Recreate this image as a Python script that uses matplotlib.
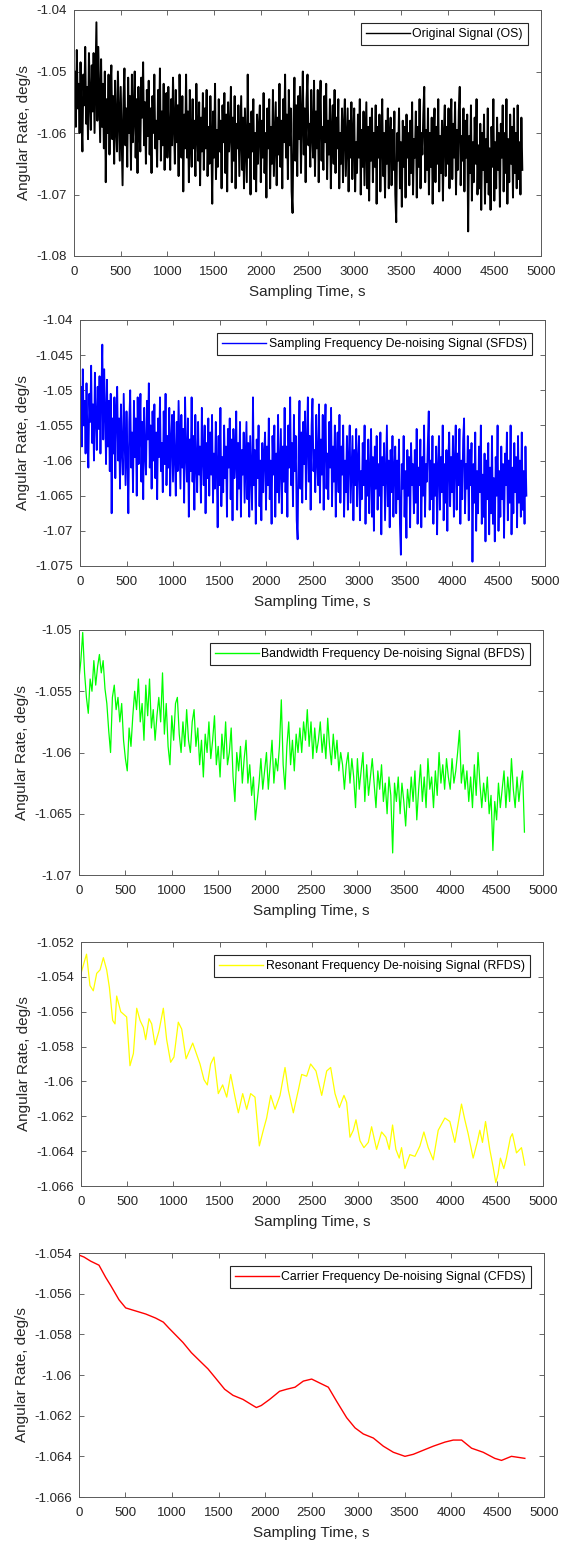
import numpy as np
import matplotlib
matplotlib.use('Agg')
from matplotlib import pyplot as plt

plt.rcParams['font.family'] = ['Liberation Sans', 'DejaVu Sans']

# original signal, one reading every 10 s
os_rate = [
    -1.0555, -1.0500, -1.0590, -1.0465, -1.0560, -1.0520, -1.0600, -1.0485, -1.0575, -1.0630, -1.0505, -1.0555, -1.0460, -1.0585, -1.0525, -1.0610, -1.0470, -1.0545, -1.0595, -1.0490,
    -1.0565, -1.0470, -1.0600, -1.0510, -1.0420, -1.0580, -1.0460, -1.0535, -1.0615, -1.0480, -1.0590, -1.0520, -1.0625, -1.0500, -1.0680, -1.0545, -1.0600, -1.0505, -1.0635, -1.0530,
    -1.0490, -1.0610, -1.0540, -1.0650, -1.0515, -1.0590, -1.0630, -1.0500, -1.0575, -1.0645, -1.0525, -1.0605, -1.0685, -1.0545, -1.0495, -1.0620, -1.0560, -1.0655, -1.0510, -1.0600,
    -1.0540, -1.0660, -1.0505, -1.0615, -1.0570, -1.0500, -1.0640, -1.0545, -1.0665, -1.0525, -1.0595, -1.0630, -1.0510, -1.0575, -1.0485, -1.0620, -1.0550, -1.0650, -1.0530, -1.0605,
    -1.0515, -1.0635, -1.0560, -1.0665, -1.0540, -1.0600, -1.0505, -1.0625, -1.0580, -1.0655, -1.0530, -1.0610, -1.0495, -1.0645, -1.0565, -1.0620, -1.0520, -1.0660, -1.0575, -1.0535,
    -1.0640, -1.0525, -1.0600, -1.0660, -1.0545, -1.0620, -1.0510, -1.0585, -1.0650, -1.0530, -1.0615, -1.0555, -1.0670, -1.0505, -1.0595, -1.0640, -1.0540, -1.0695, -1.0570, -1.0625,
    -1.0505, -1.0640, -1.0565, -1.0680, -1.0530, -1.0610, -1.0655, -1.0545, -1.0625, -1.0580, -1.0670, -1.0520, -1.0600, -1.0645, -1.0550, -1.0685, -1.0575, -1.0630, -1.0535, -1.0660,
    -1.0560, -1.0625, -1.0530, -1.0670, -1.0590, -1.0650, -1.0540, -1.0610, -1.0715, -1.0565, -1.0640, -1.0520, -1.0675, -1.0595, -1.0655, -1.0545, -1.0630, -1.0580, -1.0690, -1.0555,
    -1.0615, -1.0535, -1.0665, -1.0570, -1.0695, -1.0550, -1.0630, -1.0600, -1.0525, -1.0680, -1.0575, -1.0645, -1.0540, -1.0690, -1.0585, -1.0625, -1.0555, -1.0670, -1.0605, -1.0540,
    -1.0660, -1.0575, -1.0690, -1.0560, -1.0620, -1.0680, -1.0505, -1.0640, -1.0585, -1.0700, -1.0565, -1.0630, -1.0545, -1.0675, -1.0600, -1.0695, -1.0570, -1.0650, -1.0590, -1.0555,
    -1.0680, -1.0580, -1.0640, -1.0535, -1.0665, -1.0600, -1.0705, -1.0560, -1.0625, -1.0545, -1.0690, -1.0590, -1.0650, -1.0530, -1.0670, -1.0610, -1.0550, -1.0685, -1.0575, -1.0635,
    -1.0520, -1.0655, -1.0580, -1.0690, -1.0545, -1.0615, -1.0505, -1.0640, -1.0570, -1.0675, -1.0530, -1.0620, -1.0560, -1.0695, -1.0730, -1.0585, -1.0510, -1.0645, -1.0555, -1.0670,
    -1.0540, -1.0610, -1.0525, -1.0665, -1.0575, -1.0500, -1.0635, -1.0560, -1.0680, -1.0545, -1.0505, -1.0620, -1.0585, -1.0655, -1.0530, -1.0600, -1.0640, -1.0515, -1.0670, -1.0565,
    -1.0625, -1.0530, -1.0680, -1.0570, -1.0515, -1.0645, -1.0590, -1.0660, -1.0540, -1.0615, -1.0520, -1.0675, -1.0580, -1.0635, -1.0545, -1.0690, -1.0595, -1.0555, -1.0650, -1.0530,
    -1.0665, -1.0575, -1.0625, -1.0545, -1.0690, -1.0600, -1.0650, -1.0560, -1.0680, -1.0590, -1.0545, -1.0670, -1.0615, -1.0560, -1.0695, -1.0580, -1.0640, -1.0550, -1.0675, -1.0600,
    -1.0560, -1.0695, -1.0615, -1.0665, -1.0570, -1.0640, -1.0545, -1.0700, -1.0595, -1.0655, -1.0565, -1.0685, -1.0620, -1.0550, -1.0690, -1.0590, -1.0710, -1.0575, -1.0645, -1.0560,
    -1.0680, -1.0600, -1.0655, -1.0555, -1.0715, -1.0590, -1.0640, -1.0570, -1.0695, -1.0615, -1.0545, -1.0670, -1.0600, -1.0705, -1.0580, -1.0650, -1.0560, -1.0690, -1.0610, -1.0575,
    -1.0685, -1.0595, -1.0660, -1.0565, -1.0700, -1.0745, -1.0600, -1.0645, -1.0560, -1.0690, -1.0615, -1.0720, -1.0580, -1.0655, -1.0590, -1.0705, -1.0570, -1.0640, -1.0600, -1.0685,
    -1.0580, -1.0665, -1.0550, -1.0700, -1.0610, -1.0640, -1.0565, -1.0705, -1.0590, -1.0655, -1.0545, -1.0690, -1.0600, -1.0635, -1.0570, -1.0525, -1.0680, -1.0595, -1.0660, -1.0560,
    -1.0700, -1.0600, -1.0655, -1.0575, -1.0715, -1.0610, -1.0560, -1.0680, -1.0590, -1.0650, -1.0545, -1.0695, -1.0605, -1.0665, -1.0580, -1.0710, -1.0600, -1.0555, -1.0670, -1.0590,
    -1.0650, -1.0560, -1.0690, -1.0600, -1.0545, -1.0675, -1.0585, -1.0640, -1.0550, -1.0700, -1.0595, -1.0660, -1.0565, -1.0525, -1.0685, -1.0605, -1.0645, -1.0560, -1.0695, -1.0580,
    -1.0640, -1.0570, -1.0760, -1.0605, -1.0665, -1.0555, -1.0710, -1.0615, -1.0680, -1.0575, -1.0650, -1.0545, -1.0700, -1.0620, -1.0690, -1.0585, -1.0725, -1.0600, -1.0660, -1.0570,
    -1.0715, -1.0610, -1.0680, -1.0560, -1.0700, -1.0625, -1.0725, -1.0590, -1.0655, -1.0545, -1.0710, -1.0615, -1.0690, -1.0575, -1.0660, -1.0600, -1.0720, -1.0585, -1.0640, -1.0555,
    -1.0695, -1.0600, -1.0665, -1.0545, -1.0715, -1.0610, -1.0680, -1.0570, -1.0650, -1.0590, -1.0705, -1.0560, -1.0665, -1.0600, -1.0690, -1.0555, -1.0675, -1.0615, -1.0700, -1.0575,
    -1.0660]

# sampling frequency de-noised, every 10 s
sfds_rate = [
    -1.0540, -1.0495, -1.0580, -1.0470, -1.0550, -1.0515, -1.0590, -1.0490, -1.0565, -1.0610, -1.0505, -1.0545, -1.0465, -1.0575, -1.0520, -1.0600, -1.0475, -1.0540, -1.0585, -1.0495,
    -1.0555, -1.0480, -1.0590, -1.0505, -1.0435, -1.0570, -1.0470, -1.0530, -1.0605, -1.0485, -1.0580, -1.0515, -1.0615, -1.0505, -1.0675, -1.0540, -1.0590, -1.0510, -1.0625, -1.0530,
    -1.0495, -1.0600, -1.0540, -1.0640, -1.0520, -1.0585, -1.0620, -1.0505, -1.0570, -1.0635, -1.0530, -1.0595, -1.0675, -1.0545, -1.0500, -1.0610, -1.0560, -1.0645, -1.0515, -1.0595,
    -1.0540, -1.0650, -1.0510, -1.0605, -1.0565, -1.0505, -1.0630, -1.0545, -1.0655, -1.0525, -1.0590, -1.0620, -1.0515, -1.0570, -1.0490, -1.0610, -1.0550, -1.0640, -1.0530, -1.0600,
    -1.0520, -1.0625, -1.0560, -1.0655, -1.0540, -1.0595, -1.0510, -1.0615, -1.0575, -1.0645, -1.0530, -1.0605, -1.0505, -1.0635, -1.0565, -1.0610, -1.0525, -1.0650, -1.0570, -1.0535,
    -1.0630, -1.0530, -1.0595, -1.0650, -1.0545, -1.0615, -1.0515, -1.0580, -1.0640, -1.0535, -1.0610, -1.0555, -1.0660, -1.0510, -1.0590, -1.0630, -1.0540, -1.0680, -1.0570, -1.0615,
    -1.0510, -1.0630, -1.0565, -1.0670, -1.0535, -1.0605, -1.0645, -1.0545, -1.0620, -1.0580, -1.0660, -1.0525, -1.0595, -1.0635, -1.0550, -1.0675, -1.0575, -1.0625, -1.0540, -1.0650,
    -1.0560, -1.0620, -1.0535, -1.0660, -1.0590, -1.0640, -1.0545, -1.0605, -1.0695, -1.0565, -1.0635, -1.0525, -1.0665, -1.0595, -1.0645, -1.0550, -1.0625, -1.0580, -1.0680, -1.0555,
    -1.0610, -1.0540, -1.0655, -1.0570, -1.0685, -1.0555, -1.0625, -1.0600, -1.0530, -1.0670, -1.0575, -1.0640, -1.0545, -1.0680, -1.0585, -1.0620, -1.0560, -1.0660, -1.0605, -1.0545,
    -1.0655, -1.0575, -1.0680, -1.0565, -1.0615, -1.0670, -1.0510, -1.0635, -1.0585, -1.0690, -1.0570, -1.0625, -1.0550, -1.0665, -1.0600, -1.0685, -1.0575, -1.0645, -1.0590, -1.0560,
    -1.0670, -1.0580, -1.0635, -1.0540, -1.0655, -1.0600, -1.0690, -1.0565, -1.0620, -1.0550, -1.0680, -1.0590, -1.0645, -1.0535, -1.0660, -1.0610, -1.0555, -1.0675, -1.0580, -1.0630,
    -1.0525, -1.0645, -1.0580, -1.0680, -1.0550, -1.0610, -1.0510, -1.0635, -1.0575, -1.0665, -1.0535, -1.0615, -1.0565, -1.0685, -1.0712, -1.0585, -1.0515, -1.0640, -1.0560, -1.0660,
    -1.0545, -1.0605, -1.0530, -1.0655, -1.0575, -1.0510, -1.0630, -1.0565, -1.0670, -1.0550, -1.0512, -1.0615, -1.0585, -1.0645, -1.0535, -1.0600, -1.0635, -1.0520, -1.0660, -1.0570,
    -1.0620, -1.0535, -1.0670, -1.0575, -1.0520, -1.0640, -1.0590, -1.0655, -1.0545, -1.0610, -1.0525, -1.0665, -1.0580, -1.0630, -1.0550, -1.0680, -1.0595, -1.0560, -1.0645, -1.0535,
    -1.0660, -1.0580, -1.0620, -1.0550, -1.0680, -1.0600, -1.0645, -1.0565, -1.0670, -1.0595, -1.0550, -1.0660, -1.0615, -1.0565, -1.0685, -1.0585, -1.0635, -1.0555, -1.0665, -1.0600,
    -1.0565, -1.0685, -1.0615, -1.0655, -1.0575, -1.0635, -1.0550, -1.0690, -1.0600, -1.0650, -1.0570, -1.0675, -1.0620, -1.0555, -1.0680, -1.0595, -1.0700, -1.0580, -1.0640, -1.0565,
    -1.0670, -1.0605, -1.0650, -1.0560, -1.0705, -1.0595, -1.0635, -1.0575, -1.0685, -1.0615, -1.0550, -1.0665, -1.0600, -1.0695, -1.0585, -1.0645, -1.0565, -1.0680, -1.0610, -1.0580,
    -1.0675, -1.0600, -1.0655, -1.0570, -1.0690, -1.0734, -1.0605, -1.0640, -1.0565, -1.0680, -1.0615, -1.0710, -1.0585, -1.0650, -1.0595, -1.0695, -1.0575, -1.0635, -1.0605, -1.0675,
    -1.0585, -1.0660, -1.0555, -1.0690, -1.0610, -1.0635, -1.0570, -1.0695, -1.0595, -1.0650, -1.0550, -1.0680, -1.0605, -1.0630, -1.0575, -1.0530, -1.0670, -1.0600, -1.0655, -1.0565,
    -1.0690, -1.0605, -1.0650, -1.0580, -1.0705, -1.0610, -1.0565, -1.0670, -1.0595, -1.0645, -1.0550, -1.0685, -1.0605, -1.0660, -1.0585, -1.0700, -1.0600, -1.0560, -1.0665, -1.0595,
    -1.0645, -1.0565, -1.0680, -1.0600, -1.0550, -1.0670, -1.0590, -1.0635, -1.0555, -1.0690, -1.0600, -1.0655, -1.0570, -1.0540, -1.0675, -1.0605, -1.0640, -1.0565, -1.0685, -1.0585,
    -1.0635, -1.0575, -1.0744, -1.0605, -1.0660, -1.0560, -1.0700, -1.0615, -1.0675, -1.0580, -1.0645, -1.0550, -1.0690, -1.0620, -1.0680, -1.0590, -1.0715, -1.0600, -1.0655, -1.0575,
    -1.0705, -1.0610, -1.0675, -1.0565, -1.0690, -1.0625, -1.0715, -1.0595, -1.0650, -1.0550, -1.0700, -1.0615, -1.0680, -1.0580, -1.0655, -1.0605, -1.0710, -1.0590, -1.0635, -1.0560,
    -1.0685, -1.0600, -1.0660, -1.0550, -1.0705, -1.0610, -1.0675, -1.0575, -1.0645, -1.0595, -1.0695, -1.0565, -1.0660, -1.0600, -1.0680, -1.0560, -1.0670, -1.0615, -1.0690, -1.0580,
    -1.0650]

# bandwidth frequency de-noised, every 20 s
bfds_rate = [
    -1.0540, -1.0525, -1.0502, -1.0535, -1.0555, -1.0568, -1.0540, -1.0550, -1.0525, -1.0545,
    -1.0530, -1.0520, -1.0535, -1.0525, -1.0548, -1.0560, -1.0582, -1.0600, -1.0555, -1.0545,
    -1.0565, -1.0555, -1.0575, -1.0560, -1.0590, -1.0605, -1.0615, -1.0580, -1.0595, -1.0570,
    -1.0550, -1.0565, -1.0540, -1.0575, -1.0560, -1.0590, -1.0545, -1.0570, -1.0540, -1.0580,
    -1.0565, -1.0590, -1.0570, -1.0555, -1.0575, -1.0535, -1.0585, -1.0560, -1.0595, -1.0610,
    -1.0570, -1.0590, -1.0560, -1.0555, -1.0585, -1.0600, -1.0575, -1.0595, -1.0565, -1.0590,
    -1.0600, -1.0575, -1.0565, -1.0595, -1.0580, -1.0610, -1.0590, -1.0620, -1.0585, -1.0600,
    -1.0575, -1.0605, -1.0590, -1.0570, -1.0610, -1.0595, -1.0620, -1.0585, -1.0605, -1.0575,
    -1.0610, -1.0600, -1.0580, -1.0620, -1.0640, -1.0600, -1.0615, -1.0595, -1.0625, -1.0605,
    -1.0590, -1.0625, -1.0610, -1.0635, -1.0620, -1.0655, -1.0640, -1.0625, -1.0605, -1.0630,
    -1.0615, -1.0600, -1.0630, -1.0610, -1.0590, -1.0625, -1.0605, -1.0615, -1.0595, -1.0557,
    -1.0610, -1.0630, -1.0595, -1.0575, -1.0610, -1.0590, -1.0615, -1.0585, -1.0600, -1.0580,
    -1.0600, -1.0575, -1.0590, -1.0565, -1.0595, -1.0575, -1.0605, -1.0580, -1.0600, -1.0590,
    -1.0575, -1.0600, -1.0585, -1.0605, -1.0572, -1.0595, -1.0610, -1.0585, -1.0605, -1.0590,
    -1.0615, -1.0600, -1.0610, -1.0630, -1.0610, -1.0600, -1.0625, -1.0605, -1.0620, -1.0645,
    -1.0605, -1.0630, -1.0615, -1.0600, -1.0640, -1.0610, -1.0635, -1.0620, -1.0605, -1.0625,
    -1.0645, -1.0615, -1.0630, -1.0610, -1.0640, -1.0625, -1.0650, -1.0620, -1.0635, -1.0682,
    -1.0625, -1.0640, -1.0620, -1.0650, -1.0625, -1.0640, -1.0660, -1.0630, -1.0645, -1.0620,
    -1.0640, -1.0615, -1.0655, -1.0630, -1.0610, -1.0640, -1.0620, -1.0645, -1.0605, -1.0630,
    -1.0620, -1.0645, -1.0615, -1.0635, -1.0600, -1.0625, -1.0610, -1.0630, -1.0605, -1.0620,
    -1.0630, -1.0605, -1.0625, -1.0615, -1.0600, -1.0582, -1.0625, -1.0610, -1.0630, -1.0615,
    -1.0640, -1.0620, -1.0645, -1.0610, -1.0635, -1.0600, -1.0625, -1.0645, -1.0625, -1.0640,
    -1.0620, -1.0650, -1.0635, -1.0680, -1.0640, -1.0655, -1.0625, -1.0645, -1.0630, -1.0615,
    -1.0645, -1.0620, -1.0640, -1.0605, -1.0630, -1.0645, -1.0620, -1.0640, -1.0625, -1.0615,
    -1.0665]

# resonant frequency de-noised
rfds_t = [0, 43, 60, 97, 133, 170, 206, 242, 278, 307, 343, 368, 386, 430, 494, 530, 567, 603,
          639, 675, 700, 736, 765, 801, 844, 891, 927, 970, 1006, 1053, 1090, 1137, 1209, 1288,
          1331, 1367, 1403, 1439, 1486, 1533, 1577, 1620, 1667, 1703, 1750, 1793, 1836, 1883,
          1930, 1973, 2009, 2053, 2100, 2154, 2208, 2244, 2298, 2352, 2388, 2442, 2485, 2543,
          2605, 2659, 2702, 2749, 2796, 2846, 2875, 2911, 2947, 2976, 3019, 3062, 3109, 3145,
          3199, 3253, 3300, 3336, 3372, 3408, 3444, 3469, 3505, 3559, 3614, 3668, 3711, 3758,
          3812, 3866, 3938, 3992, 4046, 4118, 4154, 4190, 4244, 4288, 4316, 4345, 4378, 4424,
          4460, 4489, 4514, 4539, 4576, 4604, 4648, 4669, 4713, 4767, 4803]
rfds_rate = [-1.0538, -1.0530, -1.0527, -1.0545, -1.0548, -1.0538, -1.0536, -1.0529, -1.0536,
             -1.0546, -1.0565, -1.0567, -1.0551, -1.0560, -1.0563, -1.0591, -1.0584, -1.0558,
             -1.0565, -1.0569, -1.0576, -1.0564, -1.0567, -1.0579, -1.0571, -1.0558, -1.0576,
             -1.0589, -1.0586, -1.0566, -1.0570, -1.0587, -1.0578, -1.0590, -1.0599, -1.0602,
             -1.0590, -1.0586, -1.0607, -1.0602, -1.0609, -1.0596, -1.0609, -1.0618, -1.0607,
             -1.0616, -1.0607, -1.0609, -1.0637, -1.0628, -1.0621, -1.0608, -1.0616, -1.0608,
             -1.0592, -1.0605, -1.0618, -1.0605, -1.0596, -1.0597, -1.0590, -1.0594, -1.0608,
             -1.0594, -1.0592, -1.0607, -1.0615, -1.0608, -1.0612, -1.0632, -1.0628, -1.0622,
             -1.0634, -1.0638, -1.0635, -1.0626, -1.0639, -1.0629, -1.0632, -1.0639, -1.0625,
             -1.0639, -1.0644, -1.0638, -1.0650, -1.0642, -1.0643, -1.0637, -1.0629, -1.0638,
             -1.0645, -1.0628, -1.0621, -1.0623, -1.0635, -1.0613, -1.0622, -1.0630, -1.0644,
             -1.0635, -1.0628, -1.0635, -1.0623, -1.0639, -1.0649, -1.0658, -1.0653, -1.0644,
             -1.0650, -1.0644, -1.0632, -1.0630, -1.0641, -1.0638, -1.0648]

# carrier frequency de-noised
cfds_t = [0, 54, 125, 215, 287, 341, 430, 502, 573, 717, 824, 907, 968, 1011, 1118, 1208,
          1297, 1387, 1459, 1566, 1656, 1763, 1870, 1907, 1960, 2050, 2157, 2233, 2323, 2412,
          2502, 2591, 2681, 2771, 2878, 2968, 3057, 3165, 3272, 3380, 3505, 3595, 3702, 3810,
          3935, 4024, 4114, 4221, 4346, 4471, 4543, 4650, 4794]
cfds_rate = [-1.0541, -1.0542, -1.0544, -1.0546, -1.0552, -1.0556, -1.0563, -1.0567, -1.0568,
             -1.0570, -1.0572, -1.0574, -1.0577, -1.0579, -1.0584, -1.0589, -1.0593, -1.0597,
             -1.0601, -1.0607, -1.0610, -1.0612, -1.0615, -1.0616, -1.0615, -1.0612, -1.0608,
             -1.0607, -1.0606, -1.0603, -1.0602, -1.0604, -1.0606, -1.0613, -1.0621, -1.0626,
             -1.0629, -1.0631, -1.0635, -1.0638, -1.0640, -1.0639, -1.0637, -1.0635, -1.0633,
             -1.0632, -1.0632, -1.0636, -1.0638, -1.0641, -1.0642, -1.0640, -1.0641]

os_t = np.arange(len(os_rate)) * 10
sfds_t = np.arange(len(sfds_rate)) * 10
bfds_t = np.arange(len(bfds_rate)) * 20

labels = ['Original Signal (OS)',
          'Sampling Frequency De-noising Signal (SFDS)',
          'Bandwidth Frequency De-noising Signal (BFDS)',
          'Resonant Frequency De-noising Signal (RFDS)',
          'Carrier Frequency De-noising Signal (CFDS)']
colors = ['#000000', '#0000ff', '#00ff00', '#ffff00', '#ff0000']
ylims = [(-1.08, -1.04), (-1.075, -1.04), (-1.07, -1.05), (-1.066, -1.052), (-1.066, -1.054)]
ysteps = [0.01, 0.005, 0.005, 0.002, 0.002]
series = [(os_t, os_rate), (sfds_t, sfds_rate), (bfds_t, bfds_rate),
          (rfds_t, rfds_rate), (cfds_t, cfds_rate)]

W, H = 570, 1543
# axes boxes in pixels: left, right, top, bottom
boxes = [(74, 541, 10, 256), (80, 545, 320, 566), (79, 543, 630, 875),
         (81, 543, 942, 1186), (79, 544, 1253, 1497)]
lws = [1.4, 1.3, 0.9, 0.9, 1.0]

fig = plt.figure(figsize=(W / 100, H / 100), dpi=100)

for i in range(5):
    l, r, t, b = boxes[i]
    ax = fig.add_axes([l / W, 1 - b / H, (r - l) / W, (b - t) / H])
    x, y = series[i]
    ax.plot(x, y, color=colors[i], lw=lws[i], label=labels[i])
    ax.set_xlim(0, 5000)
    ax.set_ylim(*ylims[i])
    ax.set_xticks(np.arange(0, 5001, 500))
    lo, hi = ylims[i]
    yt = np.round(np.arange(lo, hi + ysteps[i] / 2, ysteps[i]), 4)
    ax.set_yticks(yt)
    ax.set_yticklabels(['%g' % v for v in yt])
    ax.tick_params(direction='in', top=True, right=True, length=3.5, width=0.6,
                   labelsize=9.5, colors='0.3', labelcolor='0.15', pad=7)
    ax.tick_params(axis='y', pad=5)
    for s in ax.spines.values():
        s.set_color('0.35')
        s.set_linewidth(0.7)
    ax.set_xlabel('Sampling Time, s', fontsize=11, color='0.15', labelpad=5)
    ax.set_ylabel('Angular Rate, deg/s', fontsize=11, color='0.15', labelpad=4)
    leg = ax.legend(loc='upper right', fontsize=8.8, handlelength=3.6, fancybox=False,
                    framealpha=1, borderaxespad=1.1, borderpad=0.4, handletextpad=0.2)
    leg.get_frame().set_edgecolor('0.15')
    leg.get_frame().set_linewidth(0.8)
    leg.get_lines()[0].set_linewidth(1.0)

fig.savefig('out.png', dpi=100)
